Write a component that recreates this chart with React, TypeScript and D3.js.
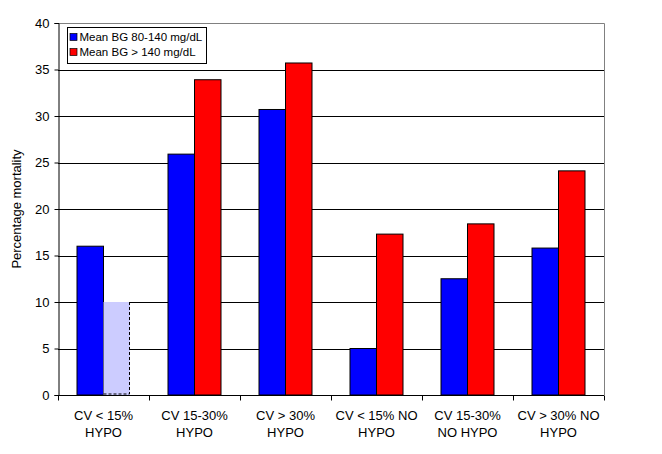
// @ts-nocheck

import React from 'react'
import * as d3 from 'd3'

const categories = [
  ['CV < 15%', 'HYPO'],
  ['CV 15-30%', 'HYPO'],
  ['CV > 30%', 'HYPO'],
  ['CV < 15% NO', 'HYPO'],
  ['CV 15-30%', 'NO HYPO'],
  ['CV > 30% NO', 'HYPO'],
]
const seriesNames = ['Mean BG 80-140 mg/dL', 'Mean BG > 140 mg/dL']
const seriesColors = ['#0000ff', '#ff0000']
const lowBG = [16, 25.9, 30.7, 5, 12.5, 15.8]
// first group has no measured high-BG value, shown as a 10% placeholder bar
const highBG = [10, 33.9, 35.7, 17.3, 18.4, 24.1]
const placeholderIndex = 0
const yTicks = [0, 5, 10, 15, 20, 25, 30, 35, 40]

const width = 662
const height = 454
const margin = { top: 23, right: 58, bottom: 59, left: 58 }
const font = 'Liberation Sans, Arial, sans-serif'

const App = () => {
  const svgRef = React.useRef(null)

  React.useEffect(() => {
    const innerW = width - margin.left - margin.right
    const innerH = height - margin.top - margin.bottom

    const x = d3.scaleBand().domain(d3.range(categories.length)).range([0, innerW])
    const inner = d3.scaleBand().domain([0, 1]).range([0, 53]).padding(0)
    const y = d3.scaleLinear().domain([0, 40]).range([innerH, 0])

    const svgEl = d3.select(svgRef.current)
    svgEl.selectAll('*').remove()
    const svg = svgEl.append('g').attr('transform', `translate(${margin.left},${margin.top})`)

    // grid lines
    svg
      .selectAll('.grid')
      .data(yTicks.filter((t) => t > 0 && t < 40))
      .enter()
      .append('line')
      .attr('x1', 0)
      .attr('x2', innerW)
      .attr('y1', (d) => Math.round(y(d)) + 0.5)
      .attr('y2', (d) => Math.round(y(d)) + 0.5)
      .attr('stroke', '#000')

    // plot border (top/right gray)
    svg
      .append('path')
      .attr('d', `M0,0.5H${innerW + 0.5}V${innerH}`)
      .attr('fill', 'none')
      .attr('stroke', '#808080')

    const offset = (x.bandwidth() - 53) / 2
    const groups = svg
      .selectAll('.grp')
      .data(categories)
      .enter()
      .append('g')
      .attr('transform', (d, i) => `translate(${x(i) + offset},0)`)

    groups.each(function (d, i) {
      const g = d3.select(this)
      const vals = [lowBG[i], highBG[i]]
      vals.forEach((v, s) => {
        const bx = inner(s)
        const by = y(v)
        const bh = innerH - by
        if (i === placeholderIndex && s === 1) {
          g.append('rect')
            .attr('x', bx)
            .attr('y', by)
            .attr('width', inner.bandwidth())
            .attr('height', bh)
            .attr('fill', '#ccccff')
          g.append('path')
            .attr('d', `M${bx + inner.bandwidth() - 0.5},${by}V${innerH - 1}H${bx}`)
            .attr('fill', 'none')
            .attr('stroke', '#000')
            .attr('stroke-dasharray', '3,2')
        } else {
          g.append('rect')
            .attr('x', bx)
            .attr('y', by)
            .attr('width', inner.bandwidth())
            .attr('height', bh)
            .attr('fill', seriesColors[s])
            .attr('stroke', '#000')
            .attr('stroke-width', 1)
        }
      })
    })

    // y axis
    const yAxis = d3.axisLeft(y).tickValues(yTicks).tickSize(4).tickPadding(5)
    const yG = svg.append('g').attr('transform', 'translate(0.5,0)').call(yAxis)
    yG.selectAll('text').attr('font-size', 13).attr('font-family', font).attr('fill', '#000')

    // x axis
    const xAxisG = svg.append('g').attr('transform', `translate(0,${innerH + 0.5})`)
    xAxisG.append('line').attr('x1', 0).attr('x2', innerW).attr('stroke', '#000')
    xAxisG
      .selectAll('.tick')
      .data(d3.range(categories.length + 1))
      .enter()
      .append('line')
      .attr('x1', (i) => Math.round(i === categories.length ? innerW : x(i)) + 0.5)
      .attr('x2', (i) => Math.round(i === categories.length ? innerW : x(i)) + 0.5)
      .attr('y1', 0)
      .attr('y2', 5)
      .attr('stroke', '#000')

    const labels = xAxisG
      .selectAll('.lbl')
      .data(categories)
      .enter()
      .append('text')
      .attr('text-anchor', 'middle')
      .attr('font-size', 13)
      .attr('font-family', font)
      .attr('transform', (d, i) => `translate(${x(i) + x.bandwidth() / 2},0)`)
    labels
      .selectAll('tspan')
      .data((d) => d)
      .enter()
      .append('tspan')
      .attr('x', 0)
      .attr('y', (d, j) => 24 + j * 17)
      .text((d) => d)

    // y label
    svg
      .append('text')
      .attr('transform', `translate(-37,${innerH / 2}) rotate(-90)`)
      .attr('text-anchor', 'middle')
      .attr('font-size', 13)
      .attr('font-family', font)
      .text('Percentage mortality')

    // legend
    const lg = svg.append('g').attr('transform', 'translate(9.5,4.5)')
    lg.append('rect')
      .attr('x', 0)
      .attr('y', 0)
      .attr('width', 139)
      .attr('height', 36)
      .attr('fill', '#fff')
      .attr('stroke', '#000')
    seriesNames.forEach((name, s) => {
      lg.append('rect')
        .attr('x', 2.5)
        .attr('y', 6 + s * 15)
        .attr('width', 7)
        .attr('height', 7)
        .attr('fill', seriesColors[s])
        .attr('stroke', '#000')
        .attr('stroke-width', 0.7)
      lg.append('text')
        .attr('x', 12)
        .attr('y', 13.5 + s * 15)
        .attr('font-size', 11.5)
        .attr('font-family', font)
        .text(name)
    })
  }, [])

  return (
    <svg
      ref={svgRef}
      width={width}
      height={height}
      style={{ position: 'absolute', left: 0, top: 0, background: '#fff' }}
    />
  )
}

export default App
